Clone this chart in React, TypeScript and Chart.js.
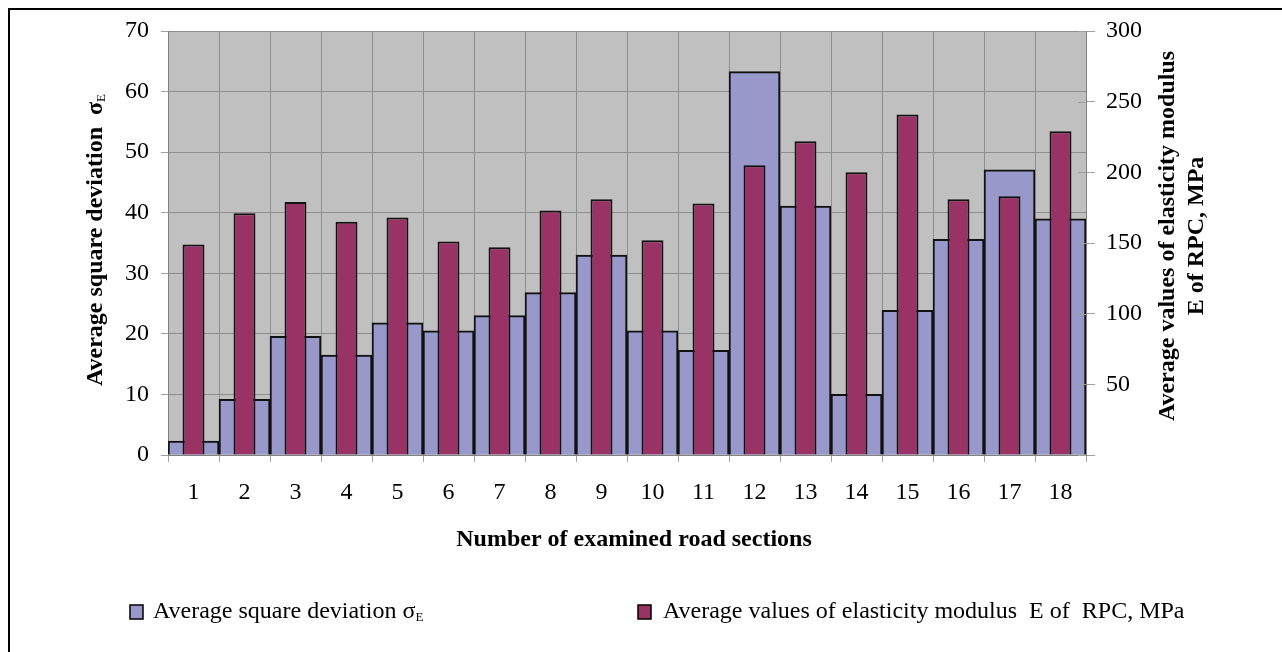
import React, { useEffect, useRef } from 'react';
import { Chart, registerables } from 'chart.js';

Chart.register(...registerables);

const FONT = "'Liberation Serif', 'Times New Roman', serif";

// ---- data ----
const categories = ['1', '2', '3', '4', '5', '6', '7', '8', '9', '10', '11', '12', '13', '14', '15', '16', '17', '18'];
const sigmaValues = [2.3, 9.2, 19.6, 16.5, 21.8, 20.5, 23.0, 26.8, 33.0, 20.5, 17.3, 63.3, 41.1, 10.0, 23.9, 35.6, 47.1, 39.0];
const modulusValues = [149, 171, 179, 165, 168, 151, 147, 173, 181, 152, 178, 205, 222, 200, 241, 181, 183, 229];

const leftAxisRange = [0, 70];
const leftAxisStep = 10;
const rightAxisRange = [0, 300];
const rightAxisStep = 50;

const sigmaLabel = 'Average square deviation σ';
const modulusLabel = 'Average values of elasticity modulus  E of  RPC, MPa';
const xTitle = 'Number of examined road sections';
const leftTitle = 'Average square deviation  σ';
const rightTitleLines = ['Average values of elasticity modulus', 'E of RPC, MPa'];
const subscript = 'E';

const SIGMA_COLOR = '#9898ca';
const MODULUS_COLOR = '#993366';

function drawWithSub(ctx: CanvasRenderingContext2D, main: string, sub: string, x: number, y: number, mainFont: string, subFont: string, align: 'left' | 'center', subDy: number) {
  ctx.font = mainFont;
  const wm = ctx.measureText(main).width;
  ctx.font = subFont;
  const ws = ctx.measureText(sub).width;
  const start = align === 'center' ? x - (wm + ws) / 2 : x;
  ctx.textAlign = 'left';
  ctx.textBaseline = 'middle';
  ctx.font = mainFont;
  ctx.fillText(main, start, y);
  ctx.font = subFont;
  ctx.fillText(sub, start + wm, y + subDy);
}

const decor = {
  id: 'decor',
  beforeDraw(chart: any) {
    const { ctx, chartArea: a } = chart;
    ctx.save();
    ctx.fillStyle = '#ffffff';
    ctx.fillRect(0, 0, chart.width, chart.height);
    ctx.fillStyle = '#c0c0c0';
    ctx.fillRect(a.left, a.top, a.right - a.left, a.bottom - a.top);
    ctx.restore();
  },
  afterDraw(chart: any) {
    const { ctx, chartArea: a } = chart;
    ctx.save();
    // inner halves of the secondary axis cross ticks
    const y2 = chart.scales.y2;
    ctx.strokeStyle = '#a0a0a0';
    ctx.lineWidth = 1;
    y2.ticks.forEach((t: any) => {
      const py = Math.round(y2.getPixelForValue(t.value)) + 0.5;
      ctx.beginPath();
      ctx.moveTo(a.right - 8, py);
      ctx.lineTo(a.right, py);
      ctx.stroke();
    });

    // outer frame
    ctx.strokeStyle = '#000';
    ctx.lineWidth = 2;
    ctx.beginPath();
    ctx.moveTo(9, chart.height);
    ctx.lineTo(9, 9);
    ctx.lineTo(chart.width, 9);
    ctx.stroke();

    ctx.fillStyle = '#000';
    // x title
    ctx.font = `bold 24px ${FONT}`;
    ctx.textAlign = 'center';
    ctx.textBaseline = 'middle';
    ctx.fillText(xTitle, 634, 540);

    // left title
    ctx.save();
    ctx.translate(96, 240);
    ctx.rotate(-Math.PI / 2);
    drawWithSub(ctx, leftTitle, subscript, 0, 0, `bold 24px ${FONT}`, `13px ${FONT}`, 'center', 6);
    ctx.restore();

    // right title
    ctx.save();
    ctx.font = `bold 24px ${FONT}`;
    ctx.textAlign = 'center';
    ctx.textBaseline = 'middle';
    ctx.translate(1168, 236);
    ctx.rotate(-Math.PI / 2);
    ctx.fillText(rightTitleLines[0], 0, 0);
    ctx.fillText(rightTitleLines[1], 0, 29);
    ctx.restore();

    // legend
    const ly = 612;
    ctx.lineWidth = 1.5;
    ctx.strokeStyle = '#000';
    ctx.fillStyle = SIGMA_COLOR;
    ctx.fillRect(130, 605, 13, 14);
    ctx.strokeRect(130, 605, 13, 14);
    ctx.fillStyle = MODULUS_COLOR;
    ctx.fillRect(638, 605, 13, 14);
    ctx.strokeRect(638, 605, 13, 14);
    ctx.fillStyle = '#000';
    drawWithSub(ctx, sigmaLabel, subscript, 153, ly, `24px ${FONT}`, `13px ${FONT}`, 'left', 6);
    ctx.font = `24px ${FONT}`;
    ctx.textAlign = 'left';
    ctx.textBaseline = 'middle';
    ctx.fillText(modulusLabel, 663, ly);
    ctx.restore();
  },
};

export default function App() {
  const ref = useRef<HTMLCanvasElement | null>(null);

  useEffect(() => {
    if (!ref.current) return;
    const chart = new Chart(ref.current, {
      type: 'bar',
      data: {
        labels: categories,
        datasets: [
          {
            label: modulusLabel,
            data: modulusValues,
            yAxisID: 'y2',
            backgroundColor: MODULUS_COLOR,
            borderColor: '#111',
            borderWidth: 2,
            barPercentage: 0.43,
            categoryPercentage: 1,
            grouped: false,
            order: 0,
          },
          {
            label: sigmaLabel,
            data: sigmaValues,
            yAxisID: 'y',
            backgroundColor: SIGMA_COLOR,
            borderColor: '#111',
            borderWidth: 2,
            barPercentage: 1,
            categoryPercentage: 1,
            grouped: false,
            order: 1,
          },
        ],
      },
      options: {
        responsive: false,
        animation: false,
        layout: { padding: { top: 31, left: 0, right: 0, bottom: 0 } },
        plugins: { legend: { display: false }, tooltip: { enabled: false }, title: { display: false } },
        scales: {
          x: {
            type: 'category',
            offset: true,
            grid: { offset: true, color: '#8e8e8e', lineWidth: 1, tickLength: 7, tickColor: '#a0a0a0' },
            border: { color: '#808080' },
            ticks: { color: '#000', font: { family: FONT, size: 24 }, padding: 16, maxRotation: 0, autoSkip: false },
            afterFit: (s: any) => { s.height = 197; },
          },
          y: {
            position: 'left',
            min: leftAxisRange[0],
            max: leftAxisRange[1],
            grid: { color: '#8e8e8e', lineWidth: 1, tickLength: 7, tickColor: '#a0a0a0' },
            border: { color: '#808080' },
            ticks: { stepSize: leftAxisStep, color: '#000', font: { family: FONT, size: 24 }, padding: 12 },
            afterFit: (s: any) => { s.width = 168; },
          },
          y2: {
            position: 'right',
            min: rightAxisRange[0],
            max: rightAxisRange[1],
            grid: { drawOnChartArea: false, tickLength: 9, color: '#a0a0a0' },
            border: { color: '#808080' },
            ticks: {
              stepSize: rightAxisStep,
              color: '#000',
              font: { family: FONT, size: 24 },
              padding: 11,
              callback: (v: any) => (Number(v) === 0 ? '' : String(v)),
            },
            afterFit: (s: any) => { s.width = 196; },
          },
        },
      },
      plugins: [decor],
    });
    return () => chart.destroy();
  }, []);

  return (
    <div style={{ position: 'absolute', left: 0, top: 0, width: 1282, height: 652, overflow: 'hidden' }}>
      <canvas ref={ref} width={1282} height={652} style={{ display: 'block' }} />
    </div>
  );
}
